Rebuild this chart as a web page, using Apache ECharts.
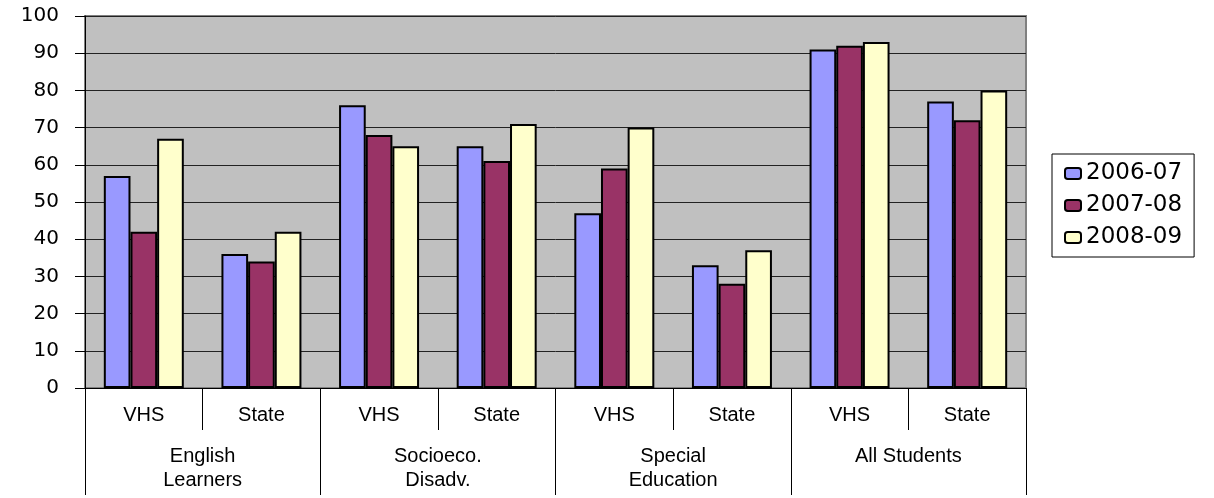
<!DOCTYPE html>
<html>
<head>
<meta charset="utf-8">
<script src="https://cdn.jsdelivr.net/npm/echarts@6/dist/echarts.min.js"></script>
<style>
  html, body { margin: 0; padding: 0; background: #fff; }
  #main { width: 1214px; height: 498px; }
</style>
</head>
<body>
<div id="main"></div>
<script>
const subCategories = ['VHS', 'State', 'VHS', 'State', 'VHS', 'State', 'VHS', 'State']
const groups = ['English\nLearners', 'Socioeco.\nDisadv.', 'Special\nEducation', 'All Students']
const yTicks = [0, 10, 20, 30, 40, 50, 60, 70, 80, 90, 100]

const y2006 = [57, 36, 76, 65, 47, 33, 91, 77]
const y2007 = [42, 34, 68, 61, 59, 28, 92, 72]
const y2008 = [67, 42, 65, 71, 70, 37, 93, 80]

const font = '"Liberation Sans", Arial, sans-serif'
const wideFont = '"DejaVu Sans", Verdana, sans-serif'

var myChart = echarts.init(document.getElementById('main'))

function bar(name, data, color) {
  return {
    name: name,
    type: 'bar',
    data: data,
    barGap: 0,
    barCategoryGap: '32%',
    itemStyle: { color: color, borderColor: '#000', borderWidth: 2 }
  }
}

myChart.setOption({
  animation: false,
  grid: {
    left: 85, right: 188, top: 16, bottom: 110,
    show: true,
    backgroundColor: '#c0c0c0',
    borderColor: '#808080',
    borderWidth: 2
  },
  legend: {
    orient: 'vertical',
    left: 1052,
    top: 154,
    padding: [8, 12, 8, 12],
    itemGap: 9,
    itemWidth: 16,
    itemHeight: 11,
    borderColor: '#000',
    borderWidth: 1,
    backgroundColor: '#fff',
    data: ['2006-07', '2007-08', '2008-09'],
    textStyle: { fontFamily: wideFont, fontSize: 23, color: '#000' }
  },
  xAxis: [{
    type: 'category',
    data: subCategories,
    axisLine: { lineStyle: { color: '#000', width: 1 } },
    axisTick: { show: true, length: 42, interval: 0, lineStyle: { color: '#000' } },
    axisLabel: { interval: 0, margin: 16, fontFamily: font, fontSize: 20, color: '#000', lineHeight: 22 }
  }, {
    type: 'category',
    data: groups,
    position: 'bottom',
    axisLine: { show: false },
    axisTick: { show: true, length: 107, interval: 0, lineStyle: { color: '#000' } },
    axisLabel: { interval: 0, margin: 56, fontFamily: font, fontSize: 20, color: '#000', lineHeight: 24 }
  }],
  yAxis: {
    type: 'value',
    min: yTicks[0],
    max: yTicks[yTicks.length - 1],
    interval: 10,
    axisLine: { show: true, lineStyle: { color: '#000' } },
    axisTick: { show: true, length: 10, lineStyle: { color: '#000' } },
    axisLabel: { margin: 26, fontFamily: wideFont, fontSize: 20, color: '#000' },
    splitLine: { lineStyle: { color: '#222', width: 1 } }
  },
  series: [
    bar('2006-07', y2006, '#9999ff'),
    bar('2007-08', y2007, '#993366'),
    bar('2008-09', y2008, '#ffffcc')
  ]
})
</script>
</body>
</html>
